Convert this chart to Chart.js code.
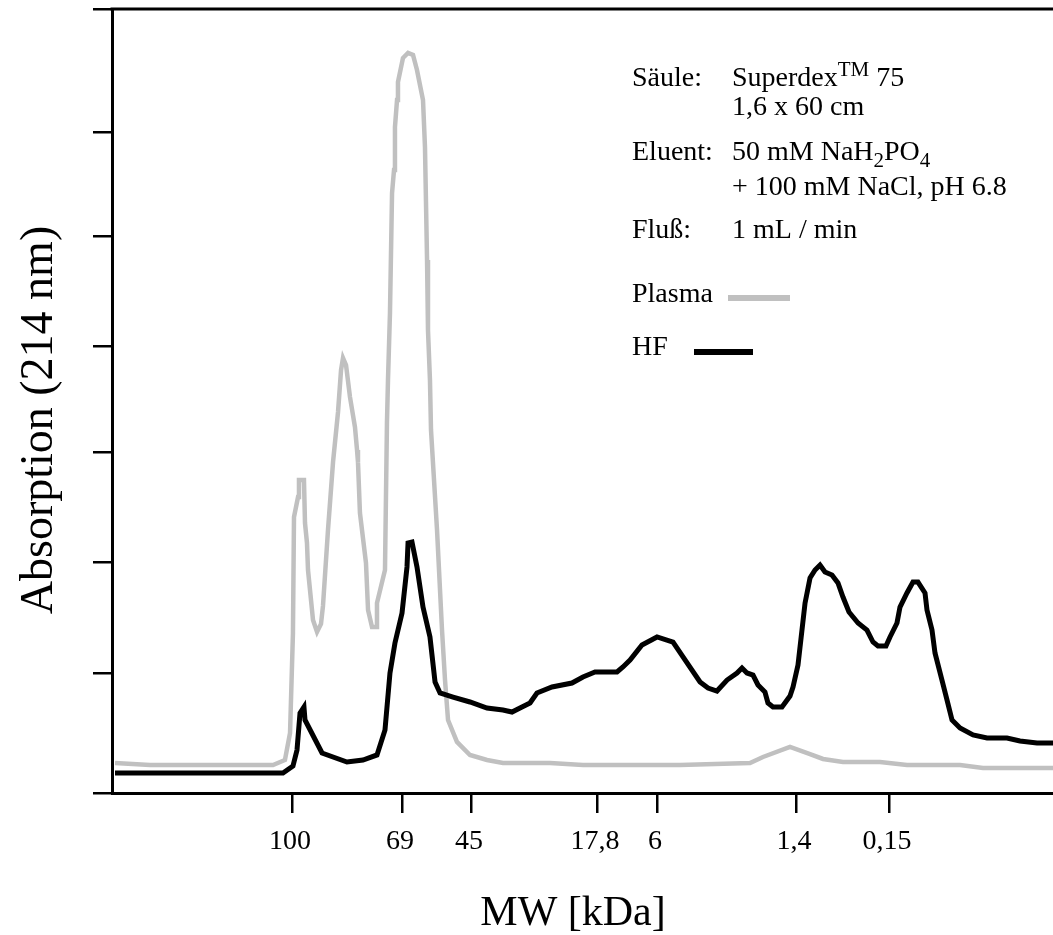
<!DOCTYPE html>
<html><head><meta charset="utf-8">
<script src="https://cdn.jsdelivr.net/npm/chart.js@4.4.0/dist/chart.umd.min.js"></script>
<style>html,body{margin:0;padding:0;background:#fff}canvas{display:block}</style>
</head><body>
<canvas id="c" width="1053" height="935"></canvas>
<script>
// Elution position (arbitrary units, 0..100) and absorption (arbitrary units, 0..100)
const elutionPlasma = [0.32, 4.04, 17.11, 18.38, 18.92, 19.23, 19.34, 19.77, 19.87, 20.40,
  20.51, 20.72, 20.83, 21.36, 21.79, 22.21, 22.42, 22.96, 23.49, 24.02,
  24.34, 24.55, 24.87, 25.29, 25.82, 26.04, 26.14, 26.35, 26.99, 27.21,
  27.63, 28.06, 28.16, 29.01, 29.22, 29.33, 29.54, 29.76, 29.97, 30.07,
  30.29, 30.39, 30.92, 31.46, 31.99, 32.41, 33.05, 33.26, 33.48, 33.58,
  33.79, 33.90, 34.54, 35.07, 35.39, 35.71, 36.66, 38.04, 39.85, 41.55,
  46.55, 50.05, 60.36, 67.80, 69.18, 72.05, 74.18, 75.56, 77.68, 81.62,
  84.48, 90.12, 92.56, 100];
const absPlasma = [3.83, 3.57, 3.57, 4.21, 7.65, 20.41, 35.20, 37.76, 39.92, 39.92,
  34.44, 31.89, 28.44, 22.07, 20.54, 21.56, 23.85, 33.67, 42.22, 48.60,
  53.95, 55.48, 54.59, 50.51, 46.68, 43.75, 42.22, 35.71, 29.34, 23.34,
  21.17, 21.17, 24.23, 28.44, 47.19, 52.68, 61.22, 76.53, 79.46, 84.95,
  88.39, 90.69, 93.75, 94.39, 94.13, 92.22, 88.39, 82.40, 67.98, 59.06,
  52.68, 46.30, 33.55, 20.79, 14.41, 9.31, 6.51, 4.85, 4.21, 3.83,
  3.83, 3.57, 3.57, 3.83, 4.59, 5.87, 4.97, 4.34, 3.95, 3.95,
  3.57, 3.57, 3.19, 3.19];
const elutionHF = [0.32, 18.17, 19.23, 19.66, 19.98, 20.40, 20.51, 22.32, 24.97, 26.67,
  28.16, 29.01, 29.54, 30.07, 30.82, 31.35, 31.46, 31.88, 32.41, 33.05,
  33.79, 34.33, 34.86, 36.24, 38.04, 39.85, 41.55, 42.51, 43.57, 44.42,
  45.16, 46.76, 48.88, 50.05, 51.33, 53.67, 54.30, 55.05, 56.32, 57.92,
  59.62, 60.68, 62.49, 63.34, 64.29, 65.36, 66.42, 66.95, 67.48, 68.12,
  68.65, 69.39, 69.71, 70.24, 71.20, 72.05, 72.37, 72.90, 73.65, 74.18,
  74.71, 75.24, 75.77, 76.51, 77.15, 77.68, 78.32, 79.28, 80.23, 80.87,
  81.40, 82.25, 82.68, 83.42, 83.74, 84.48, 85.12, 85.65, 86.40, 86.61,
  87.14, 87.46, 88.20, 88.74, 89.27, 90.12, 91.50, 92.99, 95.11, 96.49,
  98.30, 100];
const absHF = [2.55, 2.55, 3.44, 5.48, 10.20, 10.97, 9.31, 5.10, 3.95, 4.21,
  4.85, 8.04, 15.31, 19.13, 22.96, 28.83, 31.89, 32.02, 28.83, 23.72,
  19.90, 14.16, 12.76, 12.24, 11.61, 10.84, 10.59, 10.33, 10.97, 11.48,
  12.76, 13.52, 14.03, 14.80, 15.43, 15.43, 16.07, 16.96, 18.88, 19.90,
  19.26, 17.35, 14.16, 13.39, 13.01, 14.41, 15.31, 15.94, 15.31, 15.05,
  13.78, 12.88, 11.48, 10.97, 10.97, 12.37, 13.52, 16.33, 24.23, 27.42,
  28.44, 29.08, 28.19, 27.81, 26.79, 25.00, 23.09, 21.68, 20.79, 19.26,
  18.75, 18.75, 19.90, 21.68, 23.72, 25.51, 26.91, 26.91, 25.51, 23.34,
  20.79, 17.86, 14.41, 11.86, 9.31, 8.29, 7.40, 7.02, 7.02, 6.63,
  6.38, 6.38];
const mwTickPositions = [19.13, 30.82, 38.15, 51.54, 57.92, 72.69, 82.57];
const mwTickLabels = ['100', '69', '45', '17,8', '6', '1,4', '0,15'];
const yTickValues = [0, 15.31, 29.46, 43.49, 57.02, 71.05, 84.31, 100];
const seriesNames = ['Plasma', 'HF'];
const seriesColors = ['#c0c0c0', '#000000'];
const xTitle = 'MW [kDa]';
const yTitle = 'Absorption (214 nm)';

const FONT = '"Liberation Serif", "Times New Roman", Times, serif';

function drawSegs(ctx, x, y, segs) {
  let cx = x;
  for (const s of segs) {
    const t = s[0], kind = s[1];
    let dy = 0;
    if (kind === 'sup') { ctx.font = '21px ' + FONT; dy = -10; }
    else if (kind === 'sub') { ctx.font = '21px ' + FONT; dy = 7; }
    else ctx.font = '28px ' + FONT;
    ctx.fillText(t, cx, y + dy);
    cx += ctx.measureText(t).width;
  }
}

const decor = {
  id: 'decor',
  afterDraw(chart) {
    const ctx = chart.ctx, a = chart.chartArea;
    ctx.save();
    // top frame line
    ctx.strokeStyle = '#000';
    ctx.lineWidth = 3;
    ctx.beginPath();
    ctx.moveTo(a.left - 1.5, a.top);
    ctx.lineTo(a.right, a.top);
    ctx.stroke();
    ctx.fillStyle = '#000';
    // axis titles
    ctx.font = '42px ' + FONT;
    ctx.textAlign = 'center';
    ctx.textBaseline = 'alphabetic';
    ctx.fillText(xTitle, 573, 925);
    ctx.save();
    ctx.translate(52, 420);
    ctx.rotate(-Math.PI / 2);
    ctx.font = '46px ' + FONT;
    ctx.fillText(yTitle, 0, 0);
    ctx.restore();
    // info block
    ctx.textAlign = 'left';
    const L = 632, V = 732;
    drawSegs(ctx, L, 86, [['Säule:']]);
    drawSegs(ctx, V, 86, [['Superdex'], ['TM', 'sup'], [' 75']]);
    drawSegs(ctx, V, 115, [['1,6 x 60 cm']]);
    drawSegs(ctx, L, 160, [['Eluent:']]);
    drawSegs(ctx, V, 160, [['50 mM NaH'], ['2', 'sub'], ['PO'], ['4', 'sub']]);
    drawSegs(ctx, V, 195, [['+ 100 mM NaCl, pH 6.8']]);
    drawSegs(ctx, L, 238, [['Fluß:']]);
    drawSegs(ctx, V, 238, [['1 mL / min']]);
    // legend
    drawSegs(ctx, L, 302, [[seriesNames[0]]]);
    drawSegs(ctx, L, 355, [[seriesNames[1]]]);
    ctx.lineWidth = 6;
    ctx.lineCap = 'butt';
    ctx.strokeStyle = seriesColors[0];
    ctx.beginPath(); ctx.moveTo(728, 298); ctx.lineTo(790, 298); ctx.stroke();
    ctx.strokeStyle = seriesColors[1];
    ctx.beginPath(); ctx.moveTo(694, 352); ctx.lineTo(753, 352); ctx.stroke();
    ctx.restore();
  }
};

new Chart(document.getElementById('c'), {
  type: 'line',
  data: {
    datasets: [
      {
        label: seriesNames[0],
        data: elutionPlasma.map((x, i) => ({ x: x, y: absPlasma[i] })),
        borderColor: seriesColors[0], borderWidth: 4.5, pointRadius: 0, tension: 0, order: 2
      },
      {
        label: seriesNames[1],
        data: elutionHF.map((x, i) => ({ x: x, y: absHF[i] })),
        borderColor: seriesColors[1], borderWidth: 5, pointRadius: 0, tension: 0, order: 1
      }
    ]
  },
  options: {
    responsive: false,
    animation: false,
    devicePixelRatio: 1,
    layout: { padding: { top: 9, left: 0, right: 0, bottom: 0 } },
    plugins: { legend: { display: false }, tooltip: { enabled: false } },
    scales: {
      x: {
        type: 'linear', min: 0, max: 100,
        afterBuildTicks: s => { s.ticks = mwTickPositions.map(v => ({ value: v })); },
        afterFit: s => { s.height = 142; },
        ticks: {
          callback: (v, i) => mwTickLabels[i],
          font: { family: FONT, size: 28 }, color: '#000', padding: 12, maxRotation: 0, autoSkip: false,
          labelOffset: -2
        },
        grid: { drawOnChartArea: false, drawTicks: true, tickLength: 20, color: '#000', lineWidth: 2.5 },
        border: { display: true, color: '#000', width: 3 }
      },
      y: {
        type: 'linear', min: 0, max: 100,
        afterBuildTicks: s => { s.ticks = yTickValues.map(v => ({ value: v })); },
        afterFit: s => { s.width = 112; },
        ticks: { display: false },
        grid: { drawOnChartArea: false, drawTicks: true, tickLength: 19, color: '#000', lineWidth: 2.5 },
        border: { display: true, color: '#000', width: 3 }
      }
    }
  },
  plugins: [decor]
});
</script>
</body></html>
